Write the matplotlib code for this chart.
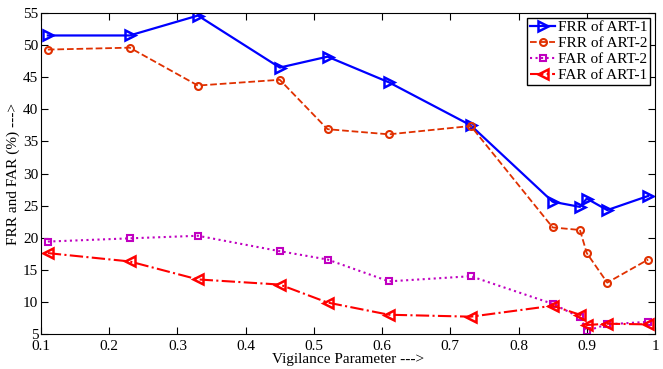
import matplotlib.pyplot as plt

plt.rcParams["font.family"] = ["Liberation Serif", "DejaVu Serif"]
plt.rcParams["font.size"] = 11

# ===== DATA =====
vigilance = [0.11, 0.23, 0.33, 0.45, 0.52, 0.61, 0.73, 0.85, 0.89, 0.90, 0.93, 0.99]
frr_art1 = [51.5, 51.5, 54.6, 46.5, 48.2, 44.2, 37.5, 25.6, 24.8, 26.1, 24.3, 26.5]
frr_art2 = [49.3, 49.6, 43.7, 44.6, 36.9, 36.1, 37.4, 21.6, 21.2, 17.6, 13.0, 16.6]
far_art2 = [19.4, 19.9, 20.3, 17.9, 16.6, 13.2, 14.0, 9.7, 7.6, 5.5, 6.5, 6.9]
far_art1 = [17.6, 16.3, 13.5, 12.7, 9.9, 8.0, 7.7, 9.4, 8.0, 6.4, 6.6, 6.5]

# ===== PLOT =====
fig = plt.figure(figsize=(6.63, 3.69), dpi=100)
ax = fig.add_axes([41 / 663, 1 - 334 / 369, 614 / 663, 321 / 369])

ax.plot(vigilance, frr_art1, color="#0000ff", linestyle="-", linewidth=1.6,
        marker=">", markersize=7, markerfacecolor="none", markeredgewidth=1.8, label="FRR of ART-1")
ax.plot(vigilance, frr_art2, color="#e03000", linestyle="--", linewidth=1.3,
        marker="o", markersize=5, markerfacecolor="none", markeredgewidth=1.5, label="FRR of ART-2")
ax.plot(vigilance, far_art2, color="#c000c0", linestyle=":", linewidth=1.5,
        marker="s", markersize=5, markerfacecolor="none", markeredgewidth=1.5, label="FAR of ART-2")
ax.plot(vigilance, far_art1, color="#ff0000", linestyle="-.", linewidth=1.5,
        marker="<", markersize=7, markerfacecolor="none", markeredgewidth=1.8, label="FAR of ART-1")

ax.set_xlim(0.1, 1.0)
ax.set_ylim(5, 55)
ax.set_xticks([0.1, 0.2, 0.3, 0.4, 0.5, 0.6, 0.7, 0.8, 0.9, 1.0])
ax.set_xticklabels(["0.1", "0.2", "0.3", "0.4", "0.5", "0.6", "0.7", "0.8", "0.9", "1"])
ax.set_yticks(range(5, 56, 5))
ax.tick_params(direction="in", top=True, right=True, length=5)
ax.tick_params(axis="x", pad=4)
ax.tick_params(axis="y", pad=2)
ax.set_xlabel("Vigilance Parameter --->", labelpad=0)
ax.set_ylabel("FRR and FAR (%) --->", labelpad=2)

leg = ax.legend(loc="upper right", fancybox=False, edgecolor="black", framealpha=1,
                borderaxespad=0.3, handlelength=1.6, borderpad=0.2, labelspacing=0.15,
                handletextpad=0.2)
leg.get_frame().set_linewidth(1.0)

plt.savefig("out.png", dpi=100)
